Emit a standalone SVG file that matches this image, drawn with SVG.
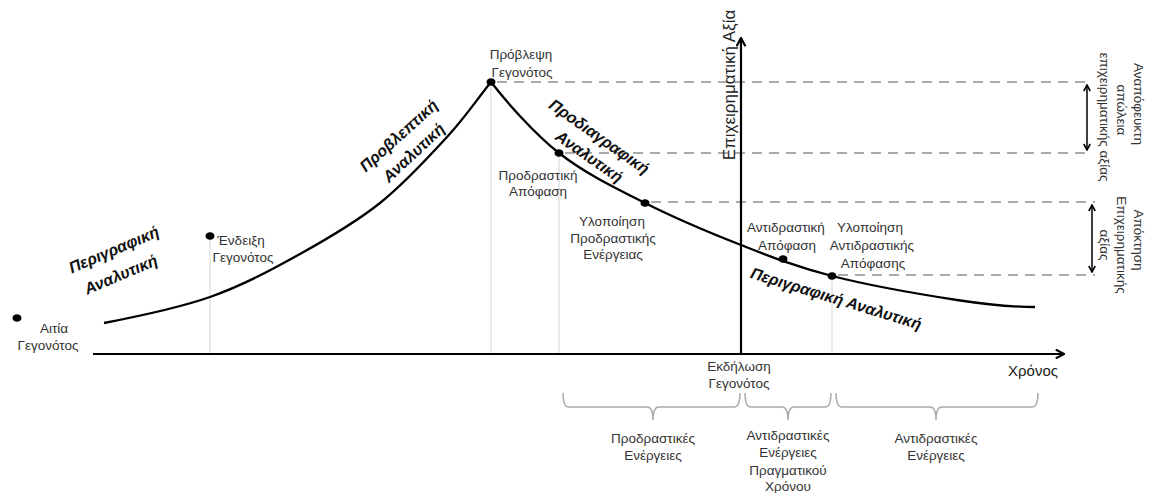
<svg xmlns="http://www.w3.org/2000/svg" width="1150" height="493" viewBox="0 0 1150 493">
  <style>
    .lbl { font-family: "Liberation Sans", Arial, sans-serif; font-size: 13.5px; fill: #333; text-anchor: middle; }
    .big { font-family: "Liberation Sans", Arial, sans-serif; font-size: 16px; fill: #111; font-weight: bold; font-style: italic; text-anchor: middle; }
    .axis-lbl { font-family: "Liberation Sans", Arial, sans-serif; font-size: 17px; fill: #222; text-anchor: middle; }
    .time-lbl { font-family: "Liberation Sans", Arial, sans-serif; font-size: 15px; fill: #222; }
    .axis { stroke: #000; stroke-width: 2.2; fill: none; }
    .curve { stroke: #000; stroke-width: 2.3; fill: none; }
    .guide { stroke: #d4d4d4; stroke-width: 1; fill: none; }
    .dash { stroke: #aaa; stroke-width: 2; stroke-dasharray: 10 7; fill: none; }
    .span { stroke: #000; stroke-width: 1.5; fill: none; }
    .brace { stroke: #aaa; stroke-width: 1.5; fill: none; }
    .dot { fill: #000; }
  </style>
  <defs>
    <marker id="chev" viewBox="0 0 10 10" refX="9" refY="5" markerWidth="11" markerHeight="11" markerUnits="userSpaceOnUse" orient="auto-start-reverse">
      <path d="M1.5,1 L9,5 L1.5,9" fill="none" stroke="#000" stroke-width="2"/>
    </marker>
    <marker id="chev-s" viewBox="0 0 10 10" refX="9" refY="5" markerWidth="8" markerHeight="8" markerUnits="userSpaceOnUse" orient="auto-start-reverse">
      <path d="M1.5,1 L9,5 L1.5,9" fill="none" stroke="#000" stroke-width="2"/>
    </marker>
  </defs>

  <!-- thin guides down to the time axis -->
  <g id="guides">
    <line class="guide" x1="210" y1="236" x2="210" y2="353"/>
    <line class="guide" x1="491" y1="82" x2="491" y2="353"/>
    <line class="guide" x1="559" y1="153" x2="559" y2="353"/>
    <line class="guide" x1="832" y1="276" x2="832" y2="353"/>
  </g>

  <!-- value levels -->
  <g id="levels">
    <line class="dash" x1="497" y1="82" x2="1090" y2="82"/>
    <line class="dash" x1="565" y1="153" x2="1090" y2="153"/>
    <line class="dash" x1="651" y1="202" x2="1095" y2="202"/>
    <line class="dash" x1="838" y1="275" x2="1095" y2="275"/>
  </g>

  <!-- axes -->
  <g id="axes">
    <line class="axis" x1="93" y1="354" x2="1064" y2="354" marker-end="url(#chev)"/>
    <line class="axis" x1="741" y1="354" x2="741" y2="38" marker-end="url(#chev)"/>
    <text class="axis-lbl" transform="translate(735,85) rotate(-90)">Επιχειρηματική Αξία</text>
    <text class="time-lbl" x="1058" y="376" text-anchor="end">Χρόνος</text>
  </g>

  <!-- value curve -->
  <g id="connectors">
    <path class="curve" d="M104,323 C140,316 177.3,308.5 210,297 C242.7,285.5 271.7,269.7 300,254 C328.3,238.3 355.5,222.5 380,203 C404.5,183.5 428.5,157.2 447,137 C465.5,116.8 476.3,100.3 491,82"/>
    <path class="curve" d="M491,82 C505,100 533.3,132.8 559,153 C584.7,173.2 614.7,187.7 645,203 C675.3,218.3 709.8,232.8 741,245 C772.2,257.2 796,266.8 832,276 C868,285.2 923.2,294.8 957,300 C990.8,305.2 1010,307 1035,307"/>
    <line class="span" x1="1087" y1="85" x2="1087" y2="150" marker-start="url(#chev-s)" marker-end="url(#chev-s)"/>
    <line class="span" x1="1092" y1="205" x2="1092" y2="272" marker-start="url(#chev-s)" marker-end="url(#chev-s)"/>
  </g>

  <!-- events -->
  <g id="cause">
    <ellipse class="dot" cx="17" cy="318" rx="4.5" ry="3.8"/>
    <text class="lbl" x="54" y="333">Αιτία</text>
    <text class="lbl" x="48" y="350">Γεγονότος</text>
  </g>
  <g id="indication">
    <ellipse class="dot" cx="210" cy="236" rx="4.5" ry="3.8"/>
    <text class="lbl" x="241" y="245">Ένδειξη</text>
    <text class="lbl" x="243" y="262">Γεγονότος</text>
  </g>
  <g id="prediction">
    <ellipse class="dot" cx="491" cy="82" rx="4.5" ry="3.8"/>
    <text class="lbl" x="521" y="59">Πρόβλεψη</text>
    <text class="lbl" x="522" y="77">Γεγονότος</text>
  </g>
  <g id="proactive-decision">
    <ellipse class="dot" cx="559" cy="153" rx="4.5" ry="3.8"/>
    <text class="lbl" x="538" y="180">Προδραστική</text>
    <text class="lbl" x="538" y="196">Απόφαση</text>
  </g>
  <g id="proactive-action">
    <ellipse class="dot" cx="645" cy="203" rx="4.5" ry="3.8"/>
    <text class="lbl" x="612" y="226">Υλοποίηση</text>
    <text class="lbl" x="613" y="243">Προδραστικής</text>
    <text class="lbl" x="613" y="259">Ενέργειας</text>
  </g>
  <g id="occurrence">
    <text class="lbl" x="739" y="371">Εκδήλωση</text>
    <text class="lbl" x="739" y="388">Γεγονότος</text>
  </g>
  <g id="reactive-decision">
    <ellipse class="dot" cx="783" cy="259" rx="4.5" ry="3.8"/>
    <text class="lbl" x="786" y="232">Αντιδραστική</text>
    <text class="lbl" x="787" y="250">Απόφαση</text>
  </g>
  <g id="reactive-action">
    <ellipse class="dot" cx="832" cy="276" rx="4.5" ry="3.8"/>
    <text class="lbl" x="870" y="232">Υλοποίηση</text>
    <text class="lbl" x="872" y="250">Αντιδραστικής</text>
    <text class="lbl" x="873" y="268">Απόφασης</text>
  </g>

  <!-- analytics phases -->
  <g id="descriptive-early">
    <text class="big" transform="translate(114,250) rotate(-23)" y="5">Περιγραφική</text>
    <text class="big" transform="translate(121,275) rotate(-23)" y="5">Αναλυτική</text>
  </g>
  <g id="predictive">
    <text class="big" transform="translate(399,136) rotate(-42)" y="5">Προβλεπτική</text>
    <text class="big" transform="translate(414,153) rotate(-43)" y="5">Αναλυτική</text>
  </g>
  <g id="prescriptive">
    <text class="big" transform="translate(599,137) rotate(35)" y="5">Προδιαγραφική</text>
    <text class="big" transform="translate(589,157) rotate(35)" y="5">Αναλυτική</text>
  </g>
  <g id="descriptive-late">
    <text class="big" transform="translate(836,299) rotate(17)" y="5">Περιγραφική Αναλυτική</text>
  </g>

  <!-- value gaps -->
  <g id="loss">
    <text class="lbl" transform="translate(1138,104) rotate(90)" y="4.5">Αναπόφευκτη</text>
    <text class="lbl" transform="translate(1121,110) rotate(90)" y="4.5">απώλεια</text>
    <text class="lbl" transform="translate(1104,117) rotate(90)" y="4.5">επιχειρηματικής αξίας</text>
  </g>
  <g id="gain">
    <text class="lbl" transform="translate(1138,240) rotate(90)" y="4.5">Απόκτηση</text>
    <text class="lbl" transform="translate(1121,245) rotate(90)" y="4.5">Επιχειρηματικής</text>
    <text class="lbl" transform="translate(1104,245) rotate(90)" y="4.5">αξίας</text>
  </g>

  <!-- action windows -->
  <g id="proactive-window">
    <path class="brace" d="M563,393 Q563,407 569,407 L647,407 Q653,407 653,420 Q653,407 659,407 L734,407 Q740,407 740,393"/>
    <text class="lbl" x="653" y="443">Προδραστικές</text>
    <text class="lbl" x="653" y="460">Ενέργειες</text>
  </g>
  <g id="realtime-window">
    <path class="brace" d="M745,393 Q745,407 751,407 L782,407 Q788,407 788,420 Q788,407 794,407 L825,407 Q831,407 831,393"/>
    <text class="lbl" x="788" y="440">Αντιδραστικές</text>
    <text class="lbl" x="788" y="457">Ενέργειες</text>
    <text class="lbl" x="788" y="475">Πραγματικού</text>
    <text class="lbl" x="788" y="491">Χρόνου</text>
  </g>
  <g id="reactive-window">
    <path class="brace" d="M836,393 Q836,407 842,407 L930,407 Q936,407 936,420 Q936,407 942,407 L1032,407 Q1038,407 1038,393"/>
    <text class="lbl" x="936" y="443">Αντιδραστικές</text>
    <text class="lbl" x="936" y="460">Ενέργειες</text>
  </g>
</svg>
